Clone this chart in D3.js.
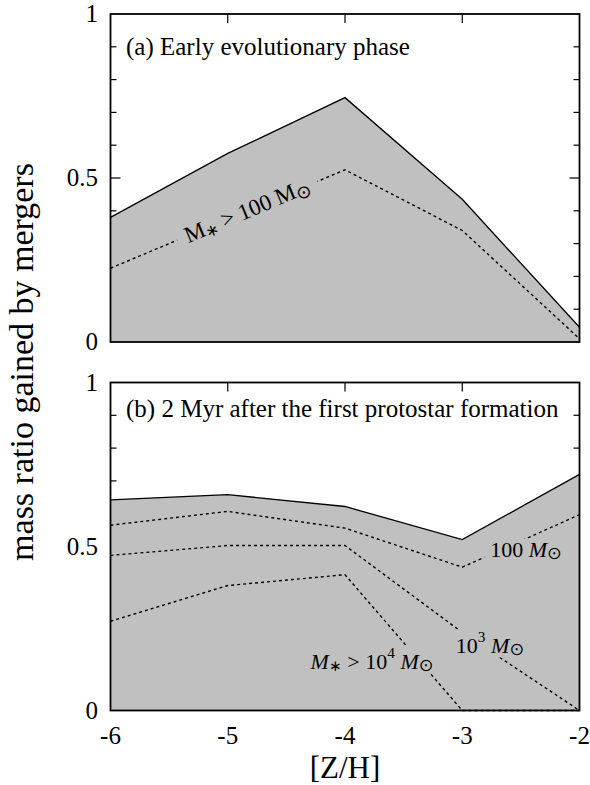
<!DOCTYPE html>
<html><head><meta charset="utf-8">
<script src="https://cdn.jsdelivr.net/npm/d3@7"></script>
<style>body{margin:0;background:#fff}svg{display:block}</style>
</head><body>
<svg id="c" width="590" height="785"></svg>
<script>
// ---- data ----
const zh = [-6, -5, -4, -3, -2];
const earlyTotal = [0.38, 0.575, 0.745, 0.435, 0.045];
const early100 = [0.225, 0.375, 0.525, 0.34, 0.01];
const lateTotal = [0.642, 0.658, 0.622, 0.521, 0.72];
const late100 = [0.565, 0.607, 0.556, 0.437, 0.597];
const late1e3 = [0.473, 0.503, 0.503, 0.238, 0.0];
const late1e4 = [0.272, 0.381, 0.414, 0.0, 0.0];
const xTicks = [-6, -5, -4, -3, -2];
const xTickLabels = ["-6", "-5", "-4", "-3", "-2"];
const yMajor = [0, 0.5, 1];
const yMajorLabels = ["0", "0.5", "1"];

const FONT = "'Liberation Serif','Times New Roman',serif";
const SYM = "'DejaVu Sans','Noto Sans',sans-serif";
const svg = d3.select("#c");
svg.append("rect").attr("width", 590).attr("height", 785).attr("fill", "#fff");

const x = d3.scaleLinear().domain([-6, -2]).range([110.5, 579.5]);
const yTop = d3.scaleLinear().domain([0, 1]).range([342, 14]);
const yBot = d3.scaleLinear().domain([0, 1]).range([710.5, 382.5]);

function panel(y, total, dashed, title, titleY, labels) {
  const g = svg.append("g");
  const yMinor = d3.range(1, 10).map(d => d / 10);
  yMinor.forEach(v => {
    const len = (Math.abs(v - 0.5) < 1e-9) ? 10 : 6;
    g.append("line").attr("x1", x(-6)).attr("x2", x(-6) + len).attr("y1", y(v)).attr("y2", y(v)).attr("stroke", "#000").attr("stroke-width", 1.2);
    g.append("line").attr("x1", x(-2)).attr("x2", x(-2) - len).attr("y1", y(v)).attr("y2", y(v)).attr("stroke", "#000").attr("stroke-width", 1.2);
  });
  xTicks.slice(1, -1).forEach(v => {
    g.append("line").attr("x1", x(v)).attr("x2", x(v)).attr("y1", y(1)).attr("y2", y(1) + 9).attr("stroke", "#000").attr("stroke-width", 1.2);
    g.append("line").attr("x1", x(v)).attr("x2", x(v)).attr("y1", y(0)).attr("y2", y(0) - 9).attr("stroke", "#000").attr("stroke-width", 1.2);
  });
  const pts = zh.map((z, i) => [z, total[i]]);
  const area = d3.area().x(d => x(d[0])).y0(y(0)).y1(d => y(d[1]));
  g.append("path").datum(pts).attr("d", area).attr("fill", "#c0c0c0");
  const line = d3.line().x(d => x(d[0])).y(d => y(d[1]));
  g.append("path").datum(pts).attr("d", line).attr("fill", "none").attr("stroke", "#000").attr("stroke-width", 1.3);
  dashed.forEach(s => {
    g.append("path").datum(zh.map((z, i) => [z, s[i]])).attr("d", line)
      .attr("fill", "none").attr("stroke", "#000").attr("stroke-width", 1.4).attr("stroke-dasharray", "3,3");
  });
  labels.forEach(L => {
    const lg = g.append("g").attr("transform", `translate(${L.cx},${L.cy}) rotate(${L.rot || 0})`);
    const bg = lg.append("rect").attr("fill", "#c0c0c0");
    const t = lg.append("text").attr("text-anchor", "middle").attr("dominant-baseline", "central")
      .attr("font-family", FONT).attr("font-size", L.fs).attr("fill", "#000");
    let prev = 0;
    L.parts.forEach(p => {
      const s = p.s || 1;
      const ts = t.append("tspan").text(p.t).attr("font-size", L.fs * s);
      const b = p.b || 0; // baseline offset in px units of base font
      ts.attr("dy", (b - prev) * L.fs);
      prev = b;
      if (p.it) ts.attr("font-style", "italic");
      if (p.font) ts.attr("font-family", p.font);
    });
    const bb = t.node().getBBox();
    const pad = L.pad || 6;
    bg.attr("x", bb.x - pad).attr("y", bb.y + (L.vpad || 2)).attr("width", bb.width + 2 * pad).attr("height", bb.height - 2 * (L.vpad || 2));
  });
  g.append("rect").attr("x", x(-6)).attr("y", y(1)).attr("width", x(-2) - x(-6)).attr("height", y(0) - y(1))
    .attr("fill", "none").attr("stroke", "#000").attr("stroke-width", 1.8);
  yMajor.forEach((v, i) => {
    g.append("text").attr("x", 98).attr("y", y(v)).attr("dy", "0.33em").attr("text-anchor", "end")
      .attr("font-family", FONT).attr("font-size", 25).text(yMajorLabels[i]);
  });
  g.append("text").attr("x", 126).attr("y", titleY).attr("font-family", FONT).attr("font-size", 25).text(title);
}

panel(yTop, earlyTotal, [early100], "(a) Early evolutionary phase", 55, [
  { cx: 247, cy: 210, rot: -22.7, fs: 23, pad: 9, parts: [
    { t: "M" }, { t: "∗", s: 0.7, b: 0.2 }, { t: " > 100 M", b: 0 }, { t: "⊙", s: 0.8, b: 0.2, font: SYM }] }
]);
panel(yBot, lateTotal, [late100, late1e3, late1e4], "(b) 2 Myr after the first protostar formation", 417, [
  { cx: 526, cy: 549, fs: 22, pad: 6, parts: [{ t: "100 " }, { t: "M", it: true }, { t: "⊙", s: 0.8, b: 0.2, font: SYM }] },
  { cx: 490, cy: 645, fs: 22, pad: 9, parts: [{ t: "10" }, { t: "3", s: 0.7, b: -0.4 }, { t: " ", b: 0 }, { t: "M", it: true }, { t: "⊙", s: 0.8, b: 0.2, font: SYM }] },
  { cx: 372, cy: 661, fs: 22, pad: 10, parts: [{ t: "M", it: true }, { t: "∗", s: 0.7, b: 0.2 }, { t: " > 10", b: 0 }, { t: "4", s: 0.7, b: -0.4 }, { t: " ", b: 0 }, { t: "M", it: true }, { t: "⊙", s: 0.8, b: 0.2, font: SYM }] }
]);

xTicks.forEach((v, i) => {
  svg.append("text").attr("x", x(v)).attr("y", 744).attr("text-anchor", "middle")
    .attr("font-family", FONT).attr("font-size", 25).text(xTickLabels[i]);
});
svg.append("text").attr("x", 345).attr("y", 778).attr("text-anchor", "middle")
  .attr("font-family", FONT).attr("font-size", 31).text("[Z/H]");
svg.append("text").attr("transform", "translate(33,362) rotate(-90)").attr("text-anchor", "middle")
  .attr("font-family", FONT).attr("font-size", 34).text("mass ratio gained by mergers");
</script>
</body></html>
